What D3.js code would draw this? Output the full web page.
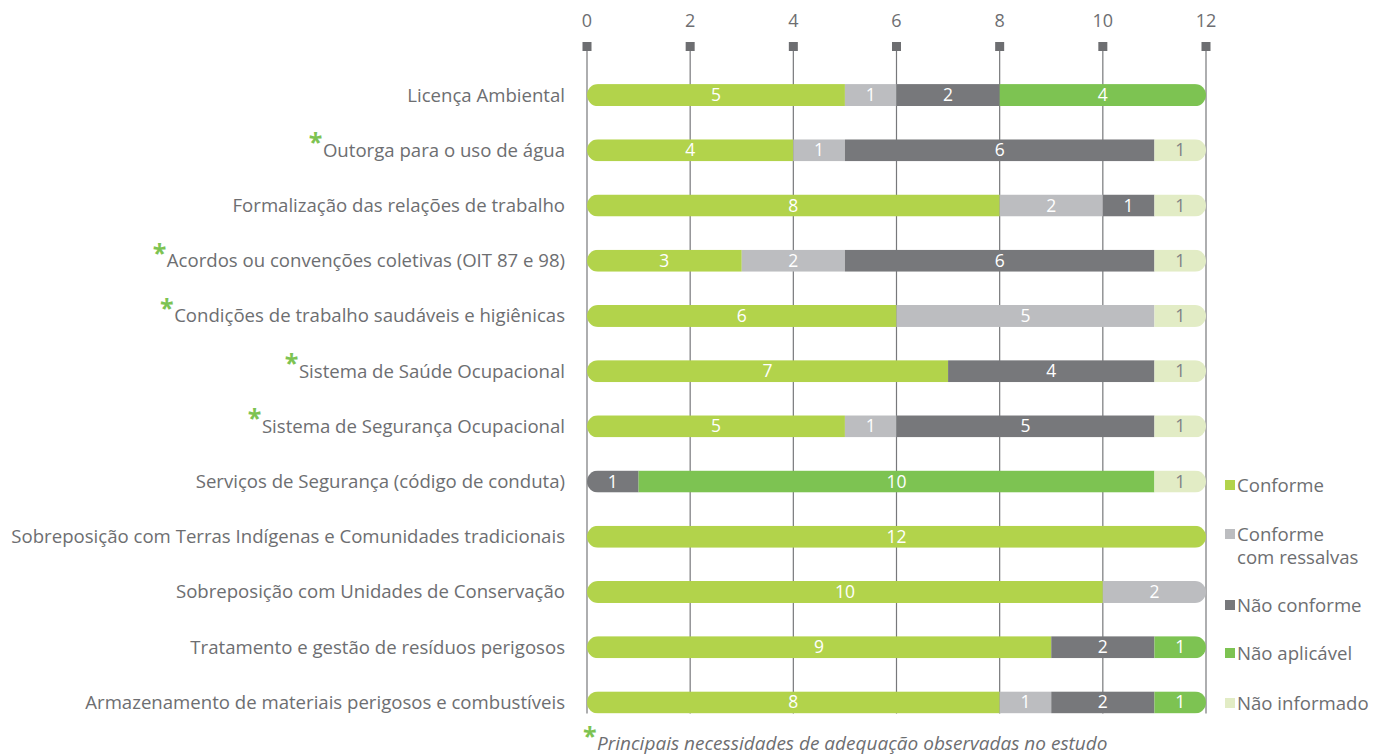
<!DOCTYPE html>
<html>
<head>
<meta charset="utf-8">
<script src="https://cdn.jsdelivr.net/npm/d3@7"></script>
<style>
  body { margin: 0; background: #fff; }
  svg text { font-family: "Open Sans", Roboto, sans-serif; }
</style>
</head>
<body>
<div id="chart"></div>
<script>
// data
var categories = [
  "Licença Ambiental",
  "Outorga para o uso de água",
  "Formalização das relações de trabalho",
  "Acordos ou convenções coletivas (OIT 87 e 98)",
  "Condições de trabalho saudáveis e higiênicas",
  "Sistema de Saúde Ocupacional",
  "Sistema de Segurança Ocupacional",
  "Serviços de Segurança (código de conduta)",
  "Sobreposição com Terras Indígenas e Comunidades tradicionais",
  "Sobreposição com Unidades de Conservação",
  "Tratamento e gestão de resíduos perigosos",
  "Armazenamento de materiais perigosos e combustíveis"
];
var starred = [false, true, false, true, true, true, true, false, false, false, false, false];

var seriesNames = ["Conforme", "Conforme com ressalvas", "Não conforme", "Não aplicável", "Não informado"];
var conforme      = [5, 4, 8, 3, 6, 7, 5, 0, 12, 10, 9, 8];
var comRessalvas  = [1, 1, 2, 2, 5, 0, 1, 0, 0, 2, 0, 1];
var naoConforme   = [2, 6, 1, 6, 0, 4, 5, 1, 0, 0, 2, 2];
var naoAplicavel  = [4, 0, 0, 0, 0, 0, 0, 10, 0, 0, 1, 1];
var naoInformado  = [0, 1, 1, 1, 1, 1, 1, 1, 0, 0, 0, 0];
var xTicks = [0, 2, 4, 6, 8, 10, 12];
var footnote = "Principais necessidades de adequação observadas no estudo";

var colors = ["#b2d34b", "#bcbdc0", "#77787b", "#7dc352", "#e2ecc5"];
var textGray = "#6d6e71";

var W = 1386, H = 755;
var svg = d3.select("#chart").append("svg").attr("width", W).attr("height", H);

var x = d3.scaleLinear().domain([0, 12]).range([587, 1206]);
var y = d3.scaleBand().domain(categories).range([67.5, 730]).paddingInner(0.6).paddingOuter(0.3);
var barH = 22;

var rows = categories.map(function(c, i) {
  return { cat: c, vals: [conforme[i], comRessalvas[i], naoConforme[i], naoAplicavel[i], naoInformado[i]] };
});
var stackData = rows.map(function(r) {
  var o = { cat: r.cat };
  seriesNames.forEach(function(s, j) { o[s] = r.vals[j]; });
  return o;
});
var stacked = d3.stack().keys(seriesNames)(stackData);

function cy(cat) { return y(cat) + y.bandwidth() / 2; }

// gridlines
var lastY = cy(categories[categories.length - 1]) + barH / 2;
svg.append("g").selectAll("line").data(xTicks).join("line")
  .attr("x1", function(d) { return x(d); }).attr("x2", function(d) { return x(d); })
  .attr("y1", 47).attr("y2", lastY)
  .attr("stroke", "#77787b").attr("stroke-width", 1.2);

svg.append("g").selectAll("rect").data(xTicks).join("rect")
  .attr("x", function(d) { return x(d) - 4.5; }).attr("y", 42)
  .attr("width", 9).attr("height", 9).attr("fill", "#6d6e71");

svg.append("g").selectAll("text").data(xTicks).join("text")
  .attr("x", function(d) { return x(d); }).attr("y", 27)
  .attr("text-anchor", "middle").attr("font-size", 18).attr("fill", textGray)
  .text(function(d) { return d; });

// clip paths for rounded bar ends
var defs = svg.append("defs");
rows.forEach(function(r, i) {
  var total = d3.sum(r.vals);
  defs.append("clipPath").attr("id", "clip" + i)
    .append("rect")
    .attr("x", x(0)).attr("y", cy(r.cat) - barH / 2)
    .attr("width", x(total) - x(0)).attr("height", barH)
    .attr("rx", barH / 2).attr("ry", barH / 2);
});

var barsG = svg.append("g");
rows.forEach(function(r, i) {
  var g = barsG.append("g").attr("clip-path", "url(#clip" + i + ")");
  stacked.forEach(function(layer, j) {
    var d = layer[i];
    if (d[1] - d[0] <= 0) return;
    g.append("rect")
      .attr("x", x(d[0])).attr("y", cy(r.cat) - barH / 2)
      .attr("width", x(d[1]) - x(d[0])).attr("height", barH)
      .attr("fill", colors[j]);
  });
  stacked.forEach(function(layer, j) {
    var d = layer[i];
    if (d[1] - d[0] <= 0) return;
    barsG.append("text")
      .attr("x", (x(d[0]) + x(d[1])) / 2).attr("y", cy(r.cat) + 6)
      .attr("text-anchor", "middle").attr("font-size", 17.5)
      .attr("fill", j === 4 ? "#808184" : "#ffffff")
      .text(d[1] - d[0]);
  });
});

// category labels
var labG = svg.append("g");
categories.forEach(function(c, i) {
  var t = labG.append("text")
    .attr("x", 565).attr("y", cy(c) + 6.5)
    .attr("text-anchor", "end").attr("font-size", 18.6).attr("fill", textGray)
    .text(c);
  if (starred[i]) {
    var w = t.node().getComputedTextLength();
    labG.append("text")
      .attr("x", 565 - w - 0.5).attr("y", cy(c) + 1)
      .attr("text-anchor", "end").attr("font-size", 25).attr("font-weight", "bold")
      .attr("fill", "#7dc352").text("*");
  }
});

// legend
var legendItems = [
  { lines: ["Conforme"], y: 485 },
  { lines: ["Conforme", "com ressalvas"], y: 534 },
  { lines: ["Não conforme"], y: 605 },
  { lines: ["Não aplicável"], y: 653 },
  { lines: ["Não informado"], y: 703 }
];
var legG = svg.append("g");
legendItems.forEach(function(it, j) {
  legG.append("rect").attr("x", 1225).attr("y", it.y - 5).attr("width", 10).attr("height", 10)
    .attr("fill", colors[j]);
  it.lines.forEach(function(l, k) {
    legG.append("text").attr("x", 1237).attr("y", it.y + 6.5 + k * 23)
      .attr("font-size", 18.6).attr("fill", textGray).text(l);
  });
});

// footnote
svg.append("text").attr("x", 583).attr("y", 745)
  .attr("font-size", 25).attr("font-weight", "bold").attr("fill", "#7dc352").text("*");
svg.append("text").attr("x", 597).attr("y", 750)
  .attr("font-size", 19).attr("font-style", "italic").attr("fill", textGray).text(footnote);
</script>
</body>
</html>
